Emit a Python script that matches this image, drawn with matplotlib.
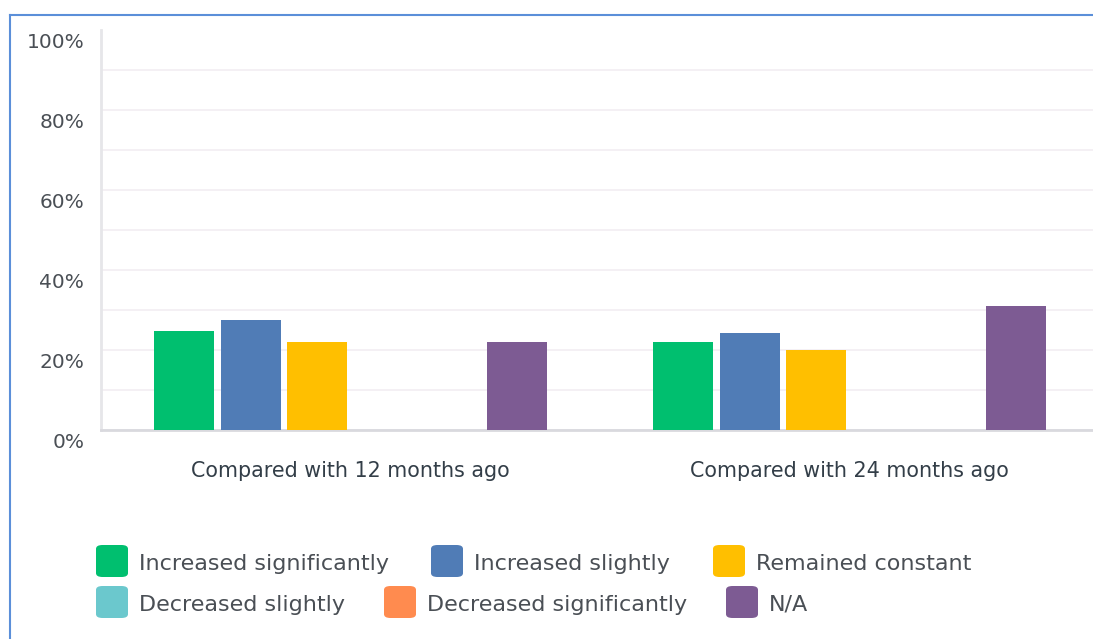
import numpy as np
import matplotlib
matplotlib.use('Agg')
import matplotlib.pyplot as plt
from matplotlib.patches import FancyBboxPatch
from matplotlib.lines import Line2D
import matplotlib.transforms as mtransforms

plt.rcParams['font.family'] = ['DejaVu Sans']

groups = ['Compared with 12 months ago', 'Compared with 24 months ago']
series = ['Increased significantly', 'Increased slightly', 'Remained constant',
          'Decreased slightly', 'Decreased significantly', 'N/A']
colors = ['#00bf6f', '#507cb6', '#ffbf00', '#6bc8cd', '#ff8b4f', '#7d5b93']
values = [
    [24.8, 22.1],   # Increased significantly
    [27.4, 24.3],   # Increased slightly
    [22.1, 19.9],   # Remained constant
    [0.0, 0.0],     # Decreased slightly
    [0.0, 0.0],     # Decreased significantly
    [22.1, 31.0],   # N/A
]
yticks = [0, 20, 40, 60, 80, 100]

W, H = 1093, 639
fig = plt.figure(figsize=(W / 100, H / 100), dpi=100)

# blue frame (top and left edges visible)
fig.add_artist(Line2D([10 / W, 10 / W], [0, 1 - 15 / H], color='#5b8fd9', lw=1.5))
fig.add_artist(Line2D([10 / W, 1], [1 - 15 / H, 1 - 15 / H], color='#5b8fd9', lw=1.5))

ax = fig.add_axes([101 / W, (H - 430) / H, 998 / W, 400 / H])
x = np.arange(len(groups))
step = 0.1333
width = 0.12
for i, (name, col) in enumerate(zip(series, colors)):
    ax.bar(x + (i - 2.5) * step, values[i], width=width, color=col, zorder=3)

ax.set_xlim(-0.5, 1.5)
ax.set_ylim(0, 100)
ax.set_yticks(yticks)
ax.set_yticklabels([f'{t}%' for t in yticks])
ax.set_yticks(np.arange(10, 100, 20), minor=True)
ax.grid(axis='y', which='both', color='#f3eff3', lw=1.3, zorder=0)
ax.get_ygridlines()[-1].set_visible(False)
ax.tick_params(axis='y', which='both', length=0, pad=12, labelsize=14.5, labelcolor='#4a4f55')
ax.set_xticks(x)
ax.set_xticklabels(groups)
ax.tick_params(axis='x', length=0, pad=22, labelsize=14.9, labelcolor='#333e48')
offset = mtransforms.ScaledTranslation(0, -10 / 100, fig.dpi_scale_trans)
for lab in ax.get_yticklabels():
    lab.set_transform(lab.get_transform() + offset)

for s in ['top', 'right']:
    ax.spines[s].set_visible(False)
ax.spines['left'].set_color('#e6e6e9')
ax.spines['left'].set_linewidth(2)
ax.spines['bottom'].set_color('#d9d9de')
ax.spines['bottom'].set_linewidth(2)

# legend laid out as flowing rows
legend_pos = [(96, 545), (431, 545), (713, 545), (96, 586), (384, 586), (726, 586)]
for (px, py), name, col in zip(legend_pos, series, colors):
    box = FancyBboxPatch((px / W, 1 - (py + 32) / H), 32 / W, 32 / H,
                         boxstyle='round,pad=0,rounding_size=0.006',
                         transform=fig.transFigure, facecolor=col, edgecolor='none')
    fig.add_artist(box)
    fig.text((px + 43) / W, 1 - (py + 19) / H, name, fontsize=16, color='#4a4f55',
             va='center', ha='left')

fig.savefig('out.png', dpi=100)
